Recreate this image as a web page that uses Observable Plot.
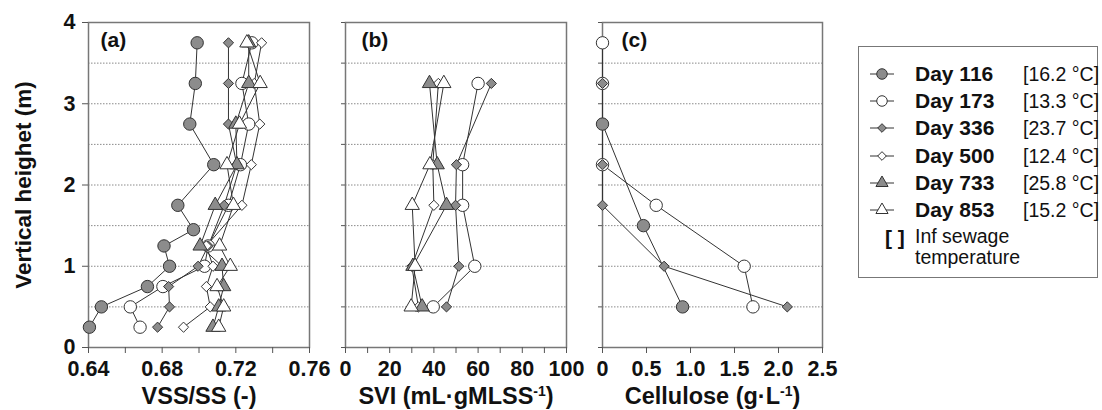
<!DOCTYPE html>
<html>
<head>
<meta charset="utf-8">
<script src="https://cdn.jsdelivr.net/npm/d3@7"></script>
<script src="https://cdn.jsdelivr.net/npm/@observablehq/plot@0.6"></script>
<style>
  body { margin: 0; background: #fff; }
  #chart { position: relative; width: 1102px; height: 410px; overflow: hidden; background: #fff;
           font-family: "Liberation Sans", Arial, sans-serif; color: #111; }
  #chart svg.panel { position: absolute; top: 0; }
  #legend { position: absolute; left: 858px; top: 46px; width: 240px; height: 232px;
            border: 1.5px solid #777; box-sizing: border-box; }
  .lrow { position: absolute; height: 24px; line-height: 24px; white-space: nowrap; }
  .lday { font-weight: bold; font-size: 21px; }
  .ltemp { font-size: 19.5px; }
</style>
</head>
<body>
<div id="chart"><div id="legend"></div></div>
<script>
// ---------- data ----------
const days = ["Day 116", "Day 173", "Day 336", "Day 500", "Day 733", "Day 853"];
const temps = ["[16.2 °C]", "[13.3 °C]", "[23.7 °C]", "[12.4 °C]", "[25.8 °C]", "[15.2 °C]"];

// (a) VSS/SS
const heightsA = [3.75, 3.25, 2.75, 2.25, 1.75, 1.45, 1.25, 1.0, 0.75, 0.5, 0.25];
const vss116 = [0.699, 0.698, 0.695, 0.708, 0.6885, 0.697, 0.681, 0.684, 0.672, 0.647, 0.6405];
const vss173 = [0.7287, 0.7233, 0.727, 0.7225, 0.716, null, 0.705, 0.703, 0.6804, 0.6627, 0.668];
const vss336 = [0.716, 0.716, 0.716, 0.7205, 0.7137, null, 0.705, 0.6995, 0.6835, 0.684, 0.6775];
const vss500 = [0.734, 0.730, 0.733, 0.7284, 0.7233, null, 0.704, 0.7076, 0.704, 0.7061, 0.6916];
const vss733 = [0.727, 0.727, 0.720, 0.7206, 0.7088, null, 0.7006, 0.7125, 0.7134, 0.7107, 0.7076];
const vss853 = [0.726, 0.7332, 0.722, 0.7152, 0.7187, null, 0.7112, 0.717, 0.7098, 0.7134, 0.7107];

// (b) SVI
const heightsB = [3.25, 2.25, 1.75, 1.0, 0.5];
const svi173 = [60, 53, 53, 58.5, 39.7];
const svi336 = [66, 50.2, 49.8, 51.3, 45.7];
const svi500 = [42, 39.5, 40, 30, 33];
const svi733 = [38, 41.5, 45.7, 30.5, 34.7];
const svi853 = [44.5, 38.2, 30.2, 31.5, 29.7];

// (c) Cellulose
const heightsC = [3.75, 3.25, 2.75, 2.25, 1.75, 1.5, 1.0, 0.5];
const cel116 = [null, null, 0, null, null, 0.465, null, 0.91];
const cel173 = [0, 0, null, 0, 0.61, null, 1.61, 1.71];
const cel336 = [null, 0, null, 0, 0, null, 0.70, 2.10];

// ticks
const gridY = [0.5, 1, 1.5, 2, 2.5, 3, 3.5];
const yLabelTicks = [0, 1, 2, 3, 4];
const yMinorTicks = [0, 0.5, 1, 1.5, 2, 2.5, 3, 3.5, 4];
const ticksA = [0.64, 0.66, 0.68, 0.70, 0.72, 0.74, 0.76];
const labelsA = [0.64, 0.68, 0.72, 0.76];
const ticksB = [0, 10, 20, 30, 40, 50, 60, 70, 80, 90, 100];
const labelsB = [0, 20, 40, 60, 80, 100];
const ticksC = [0, 0.5, 1.0, 1.5, 2.0, 2.5];
const labelsC = [0, 0.5, 1.0, 1.5, 2.0, 2.5];

// ---------- styles ----------
const fills = ["#8c8c8c", "#ffffff", "#8c8c8c", "#ffffff", "#8c8c8c", "#ffffff"];
const shapes = ["circle", "circle", "diamond2", "diamond2", "triangle", "triangle"];
const radii = [6.2, 6.2, 4.6, 4.6, 5.3, 5.3];
const ink = "#333";

function rows(heights, list) {
  const out = [];
  for (const [day, vals] of list) {
    vals.forEach((v, i) => { if (v != null) out.push({day, h: heights[i], v}); });
  }
  return out;
}

const dataA = rows(heightsA, [[days[0], vss116], [days[1], vss173], [days[2], vss336], [days[3], vss500], [days[4], vss733], [days[5], vss853]]);
const dataB = rows(heightsB, [[days[1], svi173], [days[2], svi336], [days[3], svi500], [days[4], svi733], [days[5], svi853]]);
const dataC = rows(heightsC, [[days[0], cel116], [days[1], cel173], [days[2], cel336]]);

function panel({data, xDomain, minor, labels, fmt, left, width, mL, mR, xTitle, tag, tagDx, yAxisLabels}) {
  const marks = [
    Plot.ruleY(gridY, {stroke: "#8a8a8a", strokeDasharray: "1.5 1.5", strokeWidth: 1}),
    Plot.frame({stroke: "#777", strokeWidth: 1.5}),
    Plot.axisX({ticks: minor, tickFormat: () => "", tickSize: 6, label: null, stroke: "#555"}),
    Plot.axisX({ticks: labels, tickFormat: fmt, tickSize: 0, tickPadding: 13, label: null, fontSize: 21.5, fontWeight: "bold"}),
  ];
  if (yAxisLabels) {
    marks.push(Plot.axisY({ticks: yLabelTicks, tickFormat: d => String(d), tickSize: 6, tickPadding: 7, label: null, fontSize: 21.5, fontWeight: "bold", stroke: "#555"}));
    marks.push(Plot.text(["Vertical heighet (m)"], {text: d => d, frameAnchor: "left", textAnchor: "middle", lineAnchor: "middle", dx: -65, rotate: -90, fontSize: 22.5, fontWeight: "bold"}));
  } else {
    marks.push(Plot.axisY({ticks: yMinorTicks, tickFormat: () => "", tickSize: 4, label: null, stroke: "#555"}));
  }
  marks.push(Plot.lineX(data, {x: "v", y: "h", z: "day", stroke: ink, strokeWidth: 1}));
  days.forEach((day, i) => {
    const sub = data.filter(d => d.day === day);
    if (sub.length) marks.push(Plot.dot(sub, {x: "v", y: "h", symbol: shapes[i], r: radii[i], fill: fills[i], stroke: ink, strokeWidth: 1}));
  });
  marks.push(Plot.text([tag], {text: d => d, frameAnchor: "top-left", dx: tagDx, dy: 18, textAnchor: "start", lineAnchor: "middle", fontSize: 21, fontWeight: "bold"}));
  marks.push(Plot.text([xTitle], {text: d => d, frameAnchor: "bottom", textAnchor: "middle", dy: 49, lineAnchor: "middle", fontSize: 23.5, fontWeight: "bold"}));

  const svg = Plot.plot({
    width, height: 410,
    marginLeft: mL, marginRight: mR, marginTop: 22, marginBottom: 63,
    x: {domain: xDomain},
    y: {domain: [0, 4]},
    style: {fontFamily: "'Liberation Sans', Arial, sans-serif", color: "#111", background: "transparent", overflow: "visible"},
    marks
  });
  svg.classList.add("panel");
  svg.style.left = left + "px";
  svg.style.maxWidth = "none";
  return svg;
}

const chart = document.getElementById("chart");
const fmt2 = d => d3.format(".2f")(d);
chart.appendChild(panel({data: dataA, xDomain: [0.64, 0.76], minor: ticksA, labels: labelsA, fmt: fmt2,
  left: 0, width: 314, mL: 88, mR: 5, xTitle: "VSS/SS (-)", tag: "(a)", tagDx: 12, yAxisLabels: true}));
chart.appendChild(panel({data: dataB, xDomain: [0, 100], minor: ticksB, labels: labelsB, fmt: d => String(d),
  left: 314, width: 257, mL: 31, mR: 5, xTitle: "SVI (mL·gMLSS-1)", tag: "(b)", tagDx: 16, yAxisLabels: false}));
chart.appendChild(panel({data: dataC, xDomain: [0, 2.5], minor: ticksC, labels: labelsC, fmt: d => d === 0 ? "0" : d3.format(".1f")(d),
  left: 571, width: 259, mL: 31, mR: 8, xTitle: "Cellulose (g·L-1)", tag: "(c)", tagDx: 19, yAxisLabels: false}));

// superscripts in axis titles
d3.select(chart).selectAll("text").each(function() {
  const t = this.textContent;
  const m = t.match(/^(.*)-1\)$/);
  if (m && (t.startsWith("SVI") || t.startsWith("Cellulose"))) {
    const sel = d3.select(this);
    sel.text(null);
    sel.append("tspan").text(m[1]);
    sel.append("tspan").attr("dy", -8).attr("font-size", 14).text("-1");
    sel.append("tspan").attr("dy", 8).text(")");
  }
});

// ---------- legend ----------
const legend = document.getElementById("legend");
const rowCenters = [26.7, 54, 81.3, 108.7, 136, 163.3];
days.forEach((day, i) => {
  const c = rowCenters[i];
  const s = d3.create("svg").attr("width", 32).attr("height", 24)
    .style("position", "absolute").style("left", "8px").style("top", (c - 12) + "px");
  s.append("line").attr("x1", 3).attr("x2", 27).attr("y1", 12).attr("y2", 12).attr("stroke", ink).attr("stroke-width", 1);
  const sym = {circle: d3.symbolCircle, diamond2: d3.symbolDiamond2, triangle: d3.symbolTriangle}[shapes[i]];
  const r = radii[i] * 0.85;
  s.append("path").attr("d", d3.symbol(sym, r * r * Math.PI)()).attr("transform", "translate(15,12)")
    .attr("fill", fills[i]).attr("stroke", ink).attr("stroke-width", 1);
  legend.appendChild(s.node());
  const dd = document.createElement("div");
  dd.className = "lrow lday"; dd.style.left = "56px"; dd.style.top = (c - 12) + "px"; dd.textContent = day;
  legend.appendChild(dd);
  const tt = document.createElement("div");
  tt.className = "lrow ltemp"; tt.style.left = "164px"; tt.style.top = (c - 12) + "px"; tt.textContent = temps[i];
  legend.appendChild(tt);
});
const br = document.createElement("div");
br.className = "lrow lday"; br.style.left = "26px"; br.style.top = (190.7 - 12) + "px"; br.textContent = "[ ]";
legend.appendChild(br);
const note = document.createElement("div");
note.className = "lrow ltemp"; note.style.left = "56px"; note.style.top = (190.7 - 12) + "px";
note.style.lineHeight = "21px"; note.style.height = "44px";
note.innerHTML = "Inf sewage<br>temperature";
legend.appendChild(note);
</script>
</body>
</html>
